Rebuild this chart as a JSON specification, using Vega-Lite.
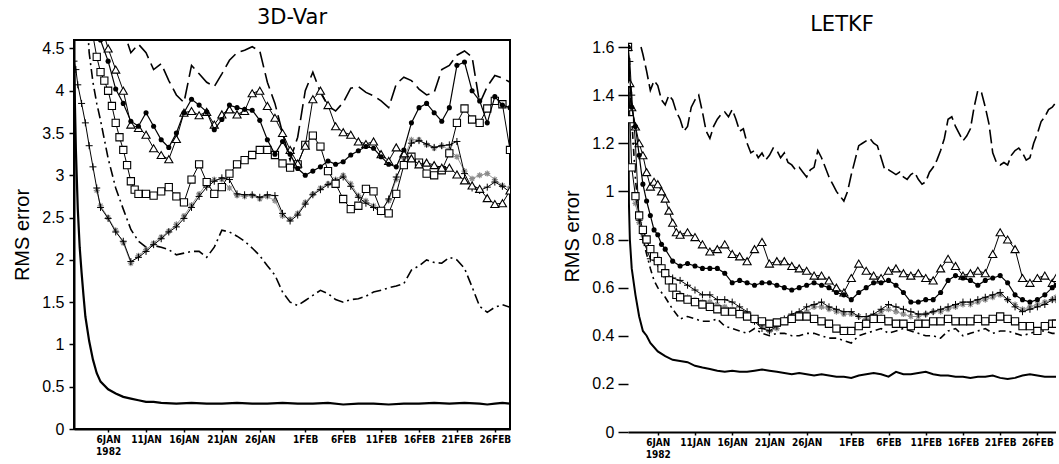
{
"$schema": "https://vega.github.io/schema/vega-lite/v6.json",
"background": "white",
"padding": {"left": 11, "top": 6, "right": 0, "bottom": 0},
"spacing": 50,
"config": {
 "view": {"stroke": "black", "strokeWidth": 2},
 "axis": {"domainColor": "black", "domainWidth": 2, "tickColor": "black", "tickWidth": 1.5, "labelColor": "black", "titleColor": "black", "grid": false, "labelFont": "Liberation Sans", "titleFont": "Liberation Sans", "titleFontWeight": "normal"},
 "title": {"font": "DejaVu Sans", "fontWeight": "normal", "fontSize": 21, "color": "black", "baseline": "alphabetic"}
},
"datasets": {
"a_solid": [{"t":"1982-01-01T12:00","v":4.35},{"t":"1982-01-01T18:00","v":3.3},{"t":"1982-01-02T00:00","v":2.6},{"t":"1982-01-02T06:00","v":2.15},{"t":"1982-01-02T12:00","v":1.85},{"t":"1982-01-02T18:00","v":1.58},{"t":"1982-01-03T00:00","v":1.33},{"t":"1982-01-03T12:00","v":1.04},{"t":"1982-01-04T00:00","v":0.82},{"t":"1982-01-04T12:00","v":0.66},{"t":"1982-01-05T00:00","v":0.56},{"t":"1982-01-06T00:00","v":0.47},{"t":"1982-01-07T00:00","v":0.42},{"t":"1982-01-08T00:00","v":0.38},{"t":"1982-01-09T00:00","v":0.36},{"t":"1982-01-10T00:00","v":0.34},{"t":"1982-01-11T00:00","v":0.32},{"t":"1982-01-12T00:00","v":0.32},{"t":"1982-01-13T00:00","v":0.31},{"t":"1982-01-15T00:00","v":0.3},{"t":"1982-01-17T00:00","v":0.31},{"t":"1982-01-19T00:00","v":0.3},{"t":"1982-01-21T00:00","v":0.3},{"t":"1982-01-23T00:00","v":0.31},{"t":"1982-01-25T00:00","v":0.3},{"t":"1982-01-27T00:00","v":0.3},{"t":"1982-01-29T00:00","v":0.31},{"t":"1982-01-31T00:00","v":0.3},{"t":"1982-02-02T00:00","v":0.3},{"t":"1982-02-04T00:00","v":0.31},{"t":"1982-02-06T00:00","v":0.29},{"t":"1982-02-08T00:00","v":0.3},{"t":"1982-02-10T00:00","v":0.3},{"t":"1982-02-12T00:00","v":0.29},{"t":"1982-02-14T00:00","v":0.3},{"t":"1982-02-16T00:00","v":0.3},{"t":"1982-02-18T00:00","v":0.31},{"t":"1982-02-20T00:00","v":0.3},{"t":"1982-02-22T00:00","v":0.31},{"t":"1982-02-24T00:00","v":0.3},{"t":"1982-02-25T00:00","v":0.29},{"t":"1982-02-26T00:00","v":0.3},{"t":"1982-02-27T00:00","v":0.31},{"t":"1982-02-28T00:00","v":0.3}],
"a_dash": [{"t":"1982-01-06T00:00","v":5.3},{"t":"1982-01-07T00:00","v":5.0},{"t":"1982-01-08T00:00","v":4.72},{"t":"1982-01-09T00:00","v":4.45},{"t":"1982-01-10T00:00","v":4.55},{"t":"1982-01-11T00:00","v":4.45},{"t":"1982-01-12T00:00","v":4.25},{"t":"1982-01-13T00:00","v":4.32},{"t":"1982-01-14T00:00","v":4.12},{"t":"1982-01-15T00:00","v":3.95},{"t":"1982-01-16T00:00","v":3.86},{"t":"1982-01-17T00:00","v":4.3},{"t":"1982-01-18T00:00","v":4.2},{"t":"1982-01-19T00:00","v":4.1},{"t":"1982-01-20T00:00","v":4.05},{"t":"1982-01-21T00:00","v":4.2},{"t":"1982-01-22T00:00","v":4.36},{"t":"1982-01-23T00:00","v":4.45},{"t":"1982-01-24T00:00","v":4.48},{"t":"1982-01-25T00:00","v":4.52},{"t":"1982-01-26T00:00","v":4.47},{"t":"1982-01-27T00:00","v":4.1},{"t":"1982-01-28T00:00","v":3.85},{"t":"1982-01-29T00:00","v":3.5},{"t":"1982-01-30T00:00","v":3.18},{"t":"1982-01-31T00:00","v":3.45},{"t":"1982-02-01T00:00","v":4.0},{"t":"1982-02-02T00:00","v":4.22},{"t":"1982-02-03T00:00","v":3.98},{"t":"1982-02-04T00:00","v":3.82},{"t":"1982-02-05T00:00","v":3.76},{"t":"1982-02-06T00:00","v":3.86},{"t":"1982-02-07T00:00","v":4.03},{"t":"1982-02-08T00:00","v":4.05},{"t":"1982-02-09T00:00","v":3.98},{"t":"1982-02-10T00:00","v":3.94},{"t":"1982-02-11T00:00","v":3.88},{"t":"1982-02-12T00:00","v":3.8},{"t":"1982-02-13T00:00","v":4.08},{"t":"1982-02-14T00:00","v":4.16},{"t":"1982-02-15T00:00","v":4.12},{"t":"1982-02-16T00:00","v":4.02},{"t":"1982-02-17T00:00","v":3.95},{"t":"1982-02-18T00:00","v":3.98},{"t":"1982-02-19T00:00","v":4.25},{"t":"1982-02-20T00:00","v":4.3},{"t":"1982-02-21T00:00","v":4.42},{"t":"1982-02-22T00:00","v":4.47},{"t":"1982-02-23T00:00","v":4.4},{"t":"1982-02-24T00:00","v":3.85},{"t":"1982-02-25T00:00","v":4.05},{"t":"1982-02-26T00:00","v":4.18},{"t":"1982-02-27T00:00","v":4.15},{"t":"1982-02-28T00:00","v":4.1}],
"a_dd": [{"t":"1982-01-03T00:00","v":5.2},{"t":"1982-01-03T12:00","v":4.45},{"t":"1982-01-04T00:00","v":4.1},{"t":"1982-01-04T12:00","v":3.85},{"t":"1982-01-05T00:00","v":3.65},{"t":"1982-01-06T00:00","v":3.2},{"t":"1982-01-07T00:00","v":2.85},{"t":"1982-01-08T00:00","v":2.6},{"t":"1982-01-09T00:00","v":2.36},{"t":"1982-01-10T00:00","v":2.22},{"t":"1982-01-11T00:00","v":2.15},{"t":"1982-01-12T00:00","v":2.17},{"t":"1982-01-13T00:00","v":2.15},{"t":"1982-01-14T00:00","v":2.12},{"t":"1982-01-15T00:00","v":2.06},{"t":"1982-01-16T00:00","v":2.08},{"t":"1982-01-17T00:00","v":2.1},{"t":"1982-01-18T00:00","v":2.1},{"t":"1982-01-19T00:00","v":2.03},{"t":"1982-01-20T00:00","v":2.15},{"t":"1982-01-21T00:00","v":2.35},{"t":"1982-01-22T00:00","v":2.33},{"t":"1982-01-23T00:00","v":2.28},{"t":"1982-01-24T00:00","v":2.22},{"t":"1982-01-25T00:00","v":2.14},{"t":"1982-01-26T00:00","v":2.05},{"t":"1982-01-27T00:00","v":1.93},{"t":"1982-01-28T00:00","v":1.82},{"t":"1982-01-29T00:00","v":1.62},{"t":"1982-01-30T00:00","v":1.5},{"t":"1982-01-31T00:00","v":1.46},{"t":"1982-02-01T00:00","v":1.52},{"t":"1982-02-02T00:00","v":1.58},{"t":"1982-02-03T00:00","v":1.64},{"t":"1982-02-04T00:00","v":1.6},{"t":"1982-02-05T00:00","v":1.53},{"t":"1982-02-06T00:00","v":1.5},{"t":"1982-02-07T00:00","v":1.53},{"t":"1982-02-08T00:00","v":1.54},{"t":"1982-02-09T00:00","v":1.57},{"t":"1982-02-10T00:00","v":1.62},{"t":"1982-02-11T00:00","v":1.64},{"t":"1982-02-12T00:00","v":1.67},{"t":"1982-02-13T00:00","v":1.69},{"t":"1982-02-14T00:00","v":1.72},{"t":"1982-02-15T00:00","v":1.88},{"t":"1982-02-16T00:00","v":1.93},{"t":"1982-02-17T00:00","v":2.0},{"t":"1982-02-18T00:00","v":1.97},{"t":"1982-02-19T00:00","v":1.96},{"t":"1982-02-20T00:00","v":2.03},{"t":"1982-02-21T00:00","v":2.0},{"t":"1982-02-22T00:00","v":1.9},{"t":"1982-02-23T00:00","v":1.68},{"t":"1982-02-24T00:00","v":1.45},{"t":"1982-02-25T00:00","v":1.38},{"t":"1982-02-26T00:00","v":1.44},{"t":"1982-02-27T00:00","v":1.47},{"t":"1982-02-28T00:00","v":1.44}],
"a_plus": [{"t":"1982-01-01T12:00","v":4.35},{"t":"1982-01-01T18:00","v":4.25},{"t":"1982-01-02T00:00","v":4.07},{"t":"1982-01-02T12:00","v":3.85},{"t":"1982-01-03T00:00","v":3.62},{"t":"1982-01-03T12:00","v":3.35},{"t":"1982-01-04T00:00","v":3.1},{"t":"1982-01-04T12:00","v":2.85},{"t":"1982-01-05T00:00","v":2.62},{"t":"1982-01-06T00:00","v":2.49},{"t":"1982-01-07T00:00","v":2.33},{"t":"1982-01-08T00:00","v":2.22},{"t":"1982-01-09T00:00","v":1.98},{"t":"1982-01-10T00:00","v":2.03},{"t":"1982-01-11T00:00","v":2.1},{"t":"1982-01-12T00:00","v":2.18},{"t":"1982-01-13T00:00","v":2.25},{"t":"1982-01-14T00:00","v":2.33},{"t":"1982-01-15T00:00","v":2.39},{"t":"1982-01-16T00:00","v":2.49},{"t":"1982-01-17T00:00","v":2.62},{"t":"1982-01-18T00:00","v":2.75},{"t":"1982-01-19T00:00","v":2.86},{"t":"1982-01-20T00:00","v":2.93},{"t":"1982-01-21T00:00","v":2.97},{"t":"1982-01-22T00:00","v":2.95},{"t":"1982-01-23T00:00","v":2.78},{"t":"1982-01-24T00:00","v":2.77},{"t":"1982-01-25T00:00","v":2.77},{"t":"1982-01-26T00:00","v":2.74},{"t":"1982-01-27T00:00","v":2.77},{"t":"1982-01-28T00:00","v":2.76},{"t":"1982-01-29T00:00","v":2.55},{"t":"1982-01-30T00:00","v":2.46},{"t":"1982-01-31T00:00","v":2.53},{"t":"1982-02-01T00:00","v":2.66},{"t":"1982-02-02T00:00","v":2.77},{"t":"1982-02-03T00:00","v":2.83},{"t":"1982-02-04T00:00","v":2.89},{"t":"1982-02-05T00:00","v":2.93},{"t":"1982-02-06T00:00","v":2.98},{"t":"1982-02-07T00:00","v":2.87},{"t":"1982-02-08T00:00","v":2.74},{"t":"1982-02-09T00:00","v":2.67},{"t":"1982-02-10T00:00","v":2.62},{"t":"1982-02-11T00:00","v":2.57},{"t":"1982-02-12T00:00","v":2.72},{"t":"1982-02-13T00:00","v":2.98},{"t":"1982-02-14T00:00","v":3.16},{"t":"1982-02-15T00:00","v":3.38},{"t":"1982-02-16T00:00","v":3.41},{"t":"1982-02-17T00:00","v":3.37},{"t":"1982-02-18T00:00","v":3.33},{"t":"1982-02-19T00:00","v":3.35},{"t":"1982-02-20T00:00","v":3.36},{"t":"1982-02-21T00:00","v":3.4},{"t":"1982-02-22T00:00","v":3.02},{"t":"1982-02-23T00:00","v":2.85},{"t":"1982-02-24T00:00","v":2.82},{"t":"1982-02-25T00:00","v":2.86},{"t":"1982-02-26T00:00","v":2.92},{"t":"1982-02-27T00:00","v":2.87},{"t":"1982-02-28T00:00","v":2.8}],
"a_gray": [{"t":"1982-01-04T12:00","v":2.82},{"t":"1982-01-05T00:00","v":2.64},{"t":"1982-01-06T00:00","v":2.5},{"t":"1982-01-07T00:00","v":2.35},{"t":"1982-01-08T00:00","v":2.2},{"t":"1982-01-09T00:00","v":1.96},{"t":"1982-01-10T00:00","v":2.05},{"t":"1982-01-11T00:00","v":2.12},{"t":"1982-01-12T00:00","v":2.2},{"t":"1982-01-13T00:00","v":2.27},{"t":"1982-01-14T00:00","v":2.34},{"t":"1982-01-15T00:00","v":2.42},{"t":"1982-01-16T00:00","v":2.52},{"t":"1982-01-17T00:00","v":2.65},{"t":"1982-01-18T00:00","v":2.78},{"t":"1982-01-19T00:00","v":2.9},{"t":"1982-01-20T00:00","v":2.95},{"t":"1982-01-21T00:00","v":2.95},{"t":"1982-01-22T00:00","v":2.85},{"t":"1982-01-23T00:00","v":2.76},{"t":"1982-01-24T00:00","v":2.75},{"t":"1982-01-25T00:00","v":2.76},{"t":"1982-01-26T00:00","v":2.72},{"t":"1982-01-27T00:00","v":2.75},{"t":"1982-01-28T00:00","v":2.7},{"t":"1982-01-29T00:00","v":2.52},{"t":"1982-01-30T00:00","v":2.48},{"t":"1982-01-31T00:00","v":2.55},{"t":"1982-02-01T00:00","v":2.68},{"t":"1982-02-02T00:00","v":2.78},{"t":"1982-02-03T00:00","v":2.85},{"t":"1982-02-04T00:00","v":2.9},{"t":"1982-02-05T00:00","v":2.95},{"t":"1982-02-06T00:00","v":3.0},{"t":"1982-02-07T00:00","v":2.9},{"t":"1982-02-08T00:00","v":2.76},{"t":"1982-02-09T00:00","v":2.7},{"t":"1982-02-10T00:00","v":2.64},{"t":"1982-02-11T00:00","v":2.58},{"t":"1982-02-12T00:00","v":2.7},{"t":"1982-02-13T00:00","v":2.95},{"t":"1982-02-14T00:00","v":3.2},{"t":"1982-02-15T00:00","v":3.42},{"t":"1982-02-16T00:00","v":3.42},{"t":"1982-02-17T00:00","v":3.36},{"t":"1982-02-18T00:00","v":3.32},{"t":"1982-02-19T00:00","v":3.35},{"t":"1982-02-20T00:00","v":3.3},{"t":"1982-02-21T00:00","v":3.22},{"t":"1982-02-22T00:00","v":3.05},{"t":"1982-02-23T00:00","v":2.96},{"t":"1982-02-24T00:00","v":3.0},{"t":"1982-02-25T00:00","v":3.02},{"t":"1982-02-26T00:00","v":2.95},{"t":"1982-02-27T00:00","v":2.88},{"t":"1982-02-28T00:00","v":2.85}],
"a_sq": [{"t":"1982-01-04T00:00","v":4.65},{"t":"1982-01-04T12:00","v":4.4},{"t":"1982-01-05T00:00","v":4.22},{"t":"1982-01-05T12:00","v":4.12},{"t":"1982-01-06T00:00","v":4.0},{"t":"1982-01-06T12:00","v":3.82},{"t":"1982-01-07T00:00","v":3.62},{"t":"1982-01-07T12:00","v":3.45},{"t":"1982-01-08T00:00","v":3.3},{"t":"1982-01-08T12:00","v":3.12},{"t":"1982-01-09T00:00","v":2.93},{"t":"1982-01-09T12:00","v":2.83},{"t":"1982-01-10T00:00","v":2.78},{"t":"1982-01-11T00:00","v":2.78},{"t":"1982-01-12T00:00","v":2.76},{"t":"1982-01-13T00:00","v":2.81},{"t":"1982-01-14T00:00","v":2.86},{"t":"1982-01-15T00:00","v":2.75},{"t":"1982-01-16T00:00","v":2.68},{"t":"1982-01-17T00:00","v":2.95},{"t":"1982-01-18T00:00","v":3.13},{"t":"1982-01-19T00:00","v":2.92},{"t":"1982-01-20T00:00","v":2.78},{"t":"1982-01-21T00:00","v":2.86},{"t":"1982-01-22T00:00","v":3.02},{"t":"1982-01-23T00:00","v":3.13},{"t":"1982-01-24T00:00","v":3.18},{"t":"1982-01-25T00:00","v":3.24},{"t":"1982-01-26T00:00","v":3.3},{"t":"1982-01-27T00:00","v":3.3},{"t":"1982-01-28T00:00","v":3.24},{"t":"1982-01-29T00:00","v":3.14},{"t":"1982-01-30T00:00","v":3.09},{"t":"1982-01-31T00:00","v":3.13},{"t":"1982-02-01T00:00","v":3.36},{"t":"1982-02-02T00:00","v":3.47},{"t":"1982-02-03T00:00","v":3.34},{"t":"1982-02-04T00:00","v":3.05},{"t":"1982-02-05T00:00","v":2.9},{"t":"1982-02-06T00:00","v":2.72},{"t":"1982-02-07T00:00","v":2.6},{"t":"1982-02-08T00:00","v":2.64},{"t":"1982-02-09T00:00","v":2.84},{"t":"1982-02-10T00:00","v":2.81},{"t":"1982-02-11T00:00","v":2.58},{"t":"1982-02-12T00:00","v":2.55},{"t":"1982-02-13T00:00","v":2.78},{"t":"1982-02-14T00:00","v":3.12},{"t":"1982-02-15T00:00","v":3.22},{"t":"1982-02-16T00:00","v":3.15},{"t":"1982-02-17T00:00","v":3.02},{"t":"1982-02-18T00:00","v":3.0},{"t":"1982-02-19T00:00","v":3.06},{"t":"1982-02-20T00:00","v":3.26},{"t":"1982-02-21T00:00","v":3.62},{"t":"1982-02-22T00:00","v":3.79},{"t":"1982-02-23T00:00","v":3.66},{"t":"1982-02-24T00:00","v":3.62},{"t":"1982-02-25T00:00","v":3.79},{"t":"1982-02-26T00:00","v":3.88},{"t":"1982-02-27T00:00","v":3.84},{"t":"1982-02-28T00:00","v":3.3}],
"a_tri": [{"t":"1982-01-04T00:00","v":5.3},{"t":"1982-01-05T00:00","v":4.8},{"t":"1982-01-06T00:00","v":4.5},{"t":"1982-01-07T00:00","v":4.25},{"t":"1982-01-08T00:00","v":4.0},{"t":"1982-01-09T00:00","v":3.6},{"t":"1982-01-10T00:00","v":3.56},{"t":"1982-01-11T00:00","v":3.48},{"t":"1982-01-12T00:00","v":3.32},{"t":"1982-01-13T00:00","v":3.24},{"t":"1982-01-14T00:00","v":3.19},{"t":"1982-01-15T00:00","v":3.43},{"t":"1982-01-16T00:00","v":3.74},{"t":"1982-01-17T00:00","v":3.76},{"t":"1982-01-18T00:00","v":3.71},{"t":"1982-01-19T00:00","v":3.75},{"t":"1982-01-20T00:00","v":3.6},{"t":"1982-01-21T00:00","v":3.72},{"t":"1982-01-22T00:00","v":3.78},{"t":"1982-01-23T00:00","v":3.72},{"t":"1982-01-24T00:00","v":3.76},{"t":"1982-01-25T00:00","v":3.97},{"t":"1982-01-26T00:00","v":4.0},{"t":"1982-01-27T00:00","v":3.82},{"t":"1982-01-28T00:00","v":3.68},{"t":"1982-01-29T00:00","v":3.5},{"t":"1982-01-30T00:00","v":3.3},{"t":"1982-01-31T00:00","v":3.14},{"t":"1982-02-01T00:00","v":3.35},{"t":"1982-02-02T00:00","v":3.9},{"t":"1982-02-03T00:00","v":4.0},{"t":"1982-02-04T00:00","v":3.83},{"t":"1982-02-05T00:00","v":3.58},{"t":"1982-02-06T00:00","v":3.51},{"t":"1982-02-07T00:00","v":3.48},{"t":"1982-02-08T00:00","v":3.4},{"t":"1982-02-09T00:00","v":3.37},{"t":"1982-02-10T00:00","v":3.4},{"t":"1982-02-11T00:00","v":3.25},{"t":"1982-02-12T00:00","v":3.17},{"t":"1982-02-13T00:00","v":3.33},{"t":"1982-02-14T00:00","v":3.26},{"t":"1982-02-15T00:00","v":3.2},{"t":"1982-02-16T00:00","v":3.13},{"t":"1982-02-17T00:00","v":3.15},{"t":"1982-02-18T00:00","v":3.12},{"t":"1982-02-19T00:00","v":3.09},{"t":"1982-02-20T00:00","v":3.09},{"t":"1982-02-21T00:00","v":3.01},{"t":"1982-02-22T00:00","v":2.94},{"t":"1982-02-23T00:00","v":2.88},{"t":"1982-02-24T00:00","v":2.84},{"t":"1982-02-25T00:00","v":2.73},{"t":"1982-02-26T00:00","v":2.66},{"t":"1982-02-27T00:00","v":2.67},{"t":"1982-02-28T00:00","v":2.82}],
"a_circ": [{"t":"1982-01-04T00:00","v":5.0},{"t":"1982-01-05T00:00","v":4.6},{"t":"1982-01-06T00:00","v":4.35},{"t":"1982-01-07T00:00","v":4.02},{"t":"1982-01-08T00:00","v":3.85},{"t":"1982-01-09T00:00","v":3.64},{"t":"1982-01-10T00:00","v":3.58},{"t":"1982-01-11T00:00","v":3.74},{"t":"1982-01-12T00:00","v":3.58},{"t":"1982-01-13T00:00","v":3.42},{"t":"1982-01-14T00:00","v":3.33},{"t":"1982-01-15T00:00","v":3.5},{"t":"1982-01-16T00:00","v":3.74},{"t":"1982-01-17T00:00","v":3.9},{"t":"1982-01-18T00:00","v":3.83},{"t":"1982-01-19T00:00","v":3.75},{"t":"1982-01-20T00:00","v":3.54},{"t":"1982-01-21T00:00","v":3.66},{"t":"1982-01-22T00:00","v":3.83},{"t":"1982-01-23T00:00","v":3.8},{"t":"1982-01-24T00:00","v":3.78},{"t":"1982-01-25T00:00","v":3.77},{"t":"1982-01-26T00:00","v":3.65},{"t":"1982-01-27T00:00","v":3.42},{"t":"1982-01-28T00:00","v":3.25},{"t":"1982-01-29T00:00","v":3.4},{"t":"1982-01-30T00:00","v":3.25},{"t":"1982-01-31T00:00","v":3.08},{"t":"1982-02-01T00:00","v":3.0},{"t":"1982-02-02T00:00","v":3.05},{"t":"1982-02-03T00:00","v":3.1},{"t":"1982-02-04T00:00","v":3.17},{"t":"1982-02-05T00:00","v":3.13},{"t":"1982-02-06T00:00","v":3.16},{"t":"1982-02-07T00:00","v":3.24},{"t":"1982-02-08T00:00","v":3.29},{"t":"1982-02-09T00:00","v":3.34},{"t":"1982-02-10T00:00","v":3.32},{"t":"1982-02-11T00:00","v":3.22},{"t":"1982-02-12T00:00","v":3.13},{"t":"1982-02-13T00:00","v":3.1},{"t":"1982-02-14T00:00","v":3.3},{"t":"1982-02-15T00:00","v":3.62},{"t":"1982-02-16T00:00","v":3.8},{"t":"1982-02-17T00:00","v":3.85},{"t":"1982-02-18T00:00","v":3.74},{"t":"1982-02-19T00:00","v":3.64},{"t":"1982-02-20T00:00","v":3.8},{"t":"1982-02-21T00:00","v":4.3},{"t":"1982-02-22T00:00","v":4.34},{"t":"1982-02-23T00:00","v":4.0},{"t":"1982-02-24T00:00","v":3.88},{"t":"1982-02-25T00:00","v":3.62},{"t":"1982-02-26T00:00","v":3.93},{"t":"1982-02-27T00:00","v":3.83},{"t":"1982-02-28T00:00","v":3.8}],
"r_solid": [{"t":"1982-01-02T00:00","v":1.6},{"t":"1982-01-02T03:00","v":0.95},{"t":"1982-01-02T06:00","v":0.8},{"t":"1982-01-02T12:00","v":0.68},{"t":"1982-01-03T00:00","v":0.57},{"t":"1982-01-03T12:00","v":0.48},{"t":"1982-01-04T00:00","v":0.42},{"t":"1982-01-04T12:00","v":0.4},{"t":"1982-01-05T00:00","v":0.37},{"t":"1982-01-06T00:00","v":0.335},{"t":"1982-01-07T00:00","v":0.315},{"t":"1982-01-08T00:00","v":0.3},{"t":"1982-01-09T00:00","v":0.295},{"t":"1982-01-10T00:00","v":0.29},{"t":"1982-01-11T00:00","v":0.275},{"t":"1982-01-12T00:00","v":0.268},{"t":"1982-01-13T00:00","v":0.262},{"t":"1982-01-14T00:00","v":0.255},{"t":"1982-01-15T00:00","v":0.25},{"t":"1982-01-16T00:00","v":0.255},{"t":"1982-01-17T00:00","v":0.25},{"t":"1982-01-18T00:00","v":0.25},{"t":"1982-01-19T00:00","v":0.255},{"t":"1982-01-20T00:00","v":0.26},{"t":"1982-01-21T00:00","v":0.255},{"t":"1982-01-22T00:00","v":0.25},{"t":"1982-01-23T00:00","v":0.245},{"t":"1982-01-24T00:00","v":0.24},{"t":"1982-01-25T00:00","v":0.245},{"t":"1982-01-26T00:00","v":0.24},{"t":"1982-01-27T00:00","v":0.235},{"t":"1982-01-28T00:00","v":0.24},{"t":"1982-01-29T00:00","v":0.235},{"t":"1982-01-30T00:00","v":0.23},{"t":"1982-01-31T00:00","v":0.23},{"t":"1982-02-01T00:00","v":0.225},{"t":"1982-02-02T00:00","v":0.235},{"t":"1982-02-03T00:00","v":0.24},{"t":"1982-02-04T00:00","v":0.245},{"t":"1982-02-05T00:00","v":0.24},{"t":"1982-02-06T00:00","v":0.23},{"t":"1982-02-07T00:00","v":0.25},{"t":"1982-02-08T00:00","v":0.24},{"t":"1982-02-09T00:00","v":0.24},{"t":"1982-02-10T00:00","v":0.245},{"t":"1982-02-11T00:00","v":0.25},{"t":"1982-02-12T00:00","v":0.24},{"t":"1982-02-13T00:00","v":0.235},{"t":"1982-02-14T00:00","v":0.235},{"t":"1982-02-15T00:00","v":0.23},{"t":"1982-02-16T00:00","v":0.23},{"t":"1982-02-17T00:00","v":0.225},{"t":"1982-02-18T00:00","v":0.23},{"t":"1982-02-19T00:00","v":0.23},{"t":"1982-02-20T00:00","v":0.235},{"t":"1982-02-21T00:00","v":0.225},{"t":"1982-02-22T00:00","v":0.22},{"t":"1982-02-23T00:00","v":0.225},{"t":"1982-02-24T00:00","v":0.235},{"t":"1982-02-25T00:00","v":0.24},{"t":"1982-02-26T00:00","v":0.235},{"t":"1982-02-27T00:00","v":0.23},{"t":"1982-02-28T12:00","v":0.23}],
"r_dash": [{"t":"1982-01-03T18:00","v":1.6},{"t":"1982-01-04T00:00","v":1.57},{"t":"1982-01-04T12:00","v":1.5},{"t":"1982-01-05T00:00","v":1.42},{"t":"1982-01-05T12:00","v":1.46},{"t":"1982-01-06T00:00","v":1.44},{"t":"1982-01-06T12:00","v":1.38},{"t":"1982-01-07T00:00","v":1.36},{"t":"1982-01-07T12:00","v":1.4},{"t":"1982-01-08T00:00","v":1.38},{"t":"1982-01-08T12:00","v":1.33},{"t":"1982-01-09T00:00","v":1.3},{"t":"1982-01-09T12:00","v":1.25},{"t":"1982-01-10T00:00","v":1.27},{"t":"1982-01-10T12:00","v":1.35},{"t":"1982-01-11T00:00","v":1.38},{"t":"1982-01-11T12:00","v":1.4},{"t":"1982-01-12T00:00","v":1.33},{"t":"1982-01-12T12:00","v":1.25},{"t":"1982-01-13T00:00","v":1.22},{"t":"1982-01-13T12:00","v":1.27},{"t":"1982-01-14T00:00","v":1.3},{"t":"1982-01-14T12:00","v":1.32},{"t":"1982-01-15T00:00","v":1.33},{"t":"1982-01-15T12:00","v":1.31},{"t":"1982-01-16T00:00","v":1.34},{"t":"1982-01-16T12:00","v":1.3},{"t":"1982-01-17T00:00","v":1.25},{"t":"1982-01-17T12:00","v":1.26},{"t":"1982-01-18T00:00","v":1.2},{"t":"1982-01-18T12:00","v":1.16},{"t":"1982-01-19T00:00","v":1.17},{"t":"1982-01-19T12:00","v":1.14},{"t":"1982-01-20T00:00","v":1.16},{"t":"1982-01-20T12:00","v":1.13},{"t":"1982-01-21T00:00","v":1.15},{"t":"1982-01-21T12:00","v":1.18},{"t":"1982-01-22T00:00","v":1.17},{"t":"1982-01-22T12:00","v":1.14},{"t":"1982-01-23T00:00","v":1.16},{"t":"1982-01-23T12:00","v":1.12},{"t":"1982-01-24T00:00","v":1.11},{"t":"1982-01-24T12:00","v":1.09},{"t":"1982-01-25T00:00","v":1.1},{"t":"1982-01-25T12:00","v":1.08},{"t":"1982-01-26T00:00","v":1.06},{"t":"1982-01-26T12:00","v":1.09},{"t":"1982-01-27T00:00","v":1.1},{"t":"1982-01-27T12:00","v":1.17},{"t":"1982-01-28T00:00","v":1.14},{"t":"1982-01-28T12:00","v":1.1},{"t":"1982-01-29T00:00","v":1.06},{"t":"1982-01-29T12:00","v":1.03},{"t":"1982-01-30T00:00","v":1.0},{"t":"1982-01-30T12:00","v":0.98},{"t":"1982-01-31T00:00","v":0.96},{"t":"1982-01-31T12:00","v":1.0},{"t":"1982-02-01T00:00","v":1.07},{"t":"1982-02-01T12:00","v":1.13},{"t":"1982-02-02T00:00","v":1.19},{"t":"1982-02-02T12:00","v":1.2},{"t":"1982-02-03T00:00","v":1.21},{"t":"1982-02-03T12:00","v":1.22},{"t":"1982-02-04T00:00","v":1.2},{"t":"1982-02-04T12:00","v":1.19},{"t":"1982-02-05T00:00","v":1.14},{"t":"1982-02-05T12:00","v":1.09},{"t":"1982-02-06T00:00","v":1.09},{"t":"1982-02-06T12:00","v":1.08},{"t":"1982-02-07T00:00","v":1.07},{"t":"1982-02-07T12:00","v":1.08},{"t":"1982-02-08T00:00","v":1.06},{"t":"1982-02-08T12:00","v":1.05},{"t":"1982-02-09T00:00","v":1.07},{"t":"1982-02-09T12:00","v":1.08},{"t":"1982-02-10T00:00","v":1.05},{"t":"1982-02-10T12:00","v":1.03},{"t":"1982-02-11T00:00","v":1.04},{"t":"1982-02-11T12:00","v":1.08},{"t":"1982-02-12T00:00","v":1.1},{"t":"1982-02-12T12:00","v":1.13},{"t":"1982-02-13T00:00","v":1.17},{"t":"1982-02-13T12:00","v":1.22},{"t":"1982-02-14T00:00","v":1.3},{"t":"1982-02-14T12:00","v":1.31},{"t":"1982-02-15T00:00","v":1.27},{"t":"1982-02-15T12:00","v":1.24},{"t":"1982-02-16T00:00","v":1.21},{"t":"1982-02-16T12:00","v":1.23},{"t":"1982-02-17T00:00","v":1.26},{"t":"1982-02-17T12:00","v":1.35},{"t":"1982-02-18T00:00","v":1.42},{"t":"1982-02-18T12:00","v":1.41},{"t":"1982-02-19T00:00","v":1.35},{"t":"1982-02-19T12:00","v":1.28},{"t":"1982-02-20T00:00","v":1.16},{"t":"1982-02-20T12:00","v":1.12},{"t":"1982-02-21T00:00","v":1.11},{"t":"1982-02-21T12:00","v":1.12},{"t":"1982-02-22T00:00","v":1.11},{"t":"1982-02-22T12:00","v":1.15},{"t":"1982-02-23T00:00","v":1.17},{"t":"1982-02-23T12:00","v":1.18},{"t":"1982-02-24T00:00","v":1.16},{"t":"1982-02-24T12:00","v":1.13},{"t":"1982-02-25T00:00","v":1.14},{"t":"1982-02-25T12:00","v":1.2},{"t":"1982-02-26T00:00","v":1.24},{"t":"1982-02-26T12:00","v":1.29},{"t":"1982-02-27T00:00","v":1.31},{"t":"1982-02-27T12:00","v":1.34},{"t":"1982-02-28T00:00","v":1.35},{"t":"1982-02-28T12:00","v":1.37}],
"r_dd": [{"t":"1982-01-02T00:00","v":1.6},{"t":"1982-01-02T12:00","v":1.3},{"t":"1982-01-03T00:00","v":1.05},{"t":"1982-01-03T12:00","v":0.9},{"t":"1982-01-04T00:00","v":0.8},{"t":"1982-01-04T12:00","v":0.74},{"t":"1982-01-05T00:00","v":0.68},{"t":"1982-01-05T12:00","v":0.63},{"t":"1982-01-06T00:00","v":0.6},{"t":"1982-01-07T00:00","v":0.56},{"t":"1982-01-08T00:00","v":0.51},{"t":"1982-01-09T00:00","v":0.47},{"t":"1982-01-10T00:00","v":0.48},{"t":"1982-01-11T00:00","v":0.47},{"t":"1982-01-12T00:00","v":0.46},{"t":"1982-01-13T00:00","v":0.46},{"t":"1982-01-14T00:00","v":0.47},{"t":"1982-01-15T00:00","v":0.44},{"t":"1982-01-16T00:00","v":0.43},{"t":"1982-01-17T00:00","v":0.42},{"t":"1982-01-18T00:00","v":0.41},{"t":"1982-01-19T00:00","v":0.43},{"t":"1982-01-20T00:00","v":0.41},{"t":"1982-01-21T00:00","v":0.4},{"t":"1982-01-22T00:00","v":0.41},{"t":"1982-01-23T00:00","v":0.41},{"t":"1982-01-24T00:00","v":0.4},{"t":"1982-01-25T00:00","v":0.4},{"t":"1982-01-26T00:00","v":0.41},{"t":"1982-01-27T00:00","v":0.41},{"t":"1982-01-28T00:00","v":0.4},{"t":"1982-01-29T00:00","v":0.39},{"t":"1982-01-30T00:00","v":0.39},{"t":"1982-01-31T00:00","v":0.38},{"t":"1982-02-01T00:00","v":0.37},{"t":"1982-02-02T00:00","v":0.4},{"t":"1982-02-03T00:00","v":0.41},{"t":"1982-02-04T00:00","v":0.42},{"t":"1982-02-05T00:00","v":0.43},{"t":"1982-02-06T00:00","v":0.41},{"t":"1982-02-07T00:00","v":0.42},{"t":"1982-02-08T00:00","v":0.43},{"t":"1982-02-09T00:00","v":0.42},{"t":"1982-02-10T00:00","v":0.41},{"t":"1982-02-11T00:00","v":0.4},{"t":"1982-02-12T00:00","v":0.4},{"t":"1982-02-13T00:00","v":0.39},{"t":"1982-02-14T00:00","v":0.42},{"t":"1982-02-15T00:00","v":0.43},{"t":"1982-02-16T00:00","v":0.4},{"t":"1982-02-17T00:00","v":0.41},{"t":"1982-02-18T00:00","v":0.42},{"t":"1982-02-19T00:00","v":0.43},{"t":"1982-02-20T00:00","v":0.41},{"t":"1982-02-21T00:00","v":0.42},{"t":"1982-02-22T00:00","v":0.42},{"t":"1982-02-23T00:00","v":0.41},{"t":"1982-02-24T00:00","v":0.4},{"t":"1982-02-25T00:00","v":0.41},{"t":"1982-02-26T00:00","v":0.42},{"t":"1982-02-27T00:00","v":0.42},{"t":"1982-02-28T00:00","v":0.41},{"t":"1982-02-28T12:00","v":0.41}],
"r_plus": [{"t":"1982-01-02T00:00","v":1.6},{"t":"1982-01-02T06:00","v":1.54},{"t":"1982-01-02T12:00","v":1.4},{"t":"1982-01-03T00:00","v":1.2},{"t":"1982-01-03T12:00","v":0.88},{"t":"1982-01-04T00:00","v":0.8},{"t":"1982-01-05T00:00","v":0.72},{"t":"1982-01-06T00:00","v":0.7},{"t":"1982-01-07T00:00","v":0.66},{"t":"1982-01-08T00:00","v":0.64},{"t":"1982-01-09T00:00","v":0.63},{"t":"1982-01-10T00:00","v":0.61},{"t":"1982-01-11T00:00","v":0.59},{"t":"1982-01-12T00:00","v":0.57},{"t":"1982-01-13T00:00","v":0.57},{"t":"1982-01-14T00:00","v":0.55},{"t":"1982-01-15T00:00","v":0.55},{"t":"1982-01-16T00:00","v":0.54},{"t":"1982-01-17T00:00","v":0.52},{"t":"1982-01-18T00:00","v":0.5},{"t":"1982-01-19T00:00","v":0.46},{"t":"1982-01-20T00:00","v":0.43},{"t":"1982-01-21T00:00","v":0.42},{"t":"1982-01-22T00:00","v":0.44},{"t":"1982-01-23T00:00","v":0.47},{"t":"1982-01-24T00:00","v":0.49},{"t":"1982-01-25T00:00","v":0.5},{"t":"1982-01-26T00:00","v":0.52},{"t":"1982-01-27T00:00","v":0.53},{"t":"1982-01-28T00:00","v":0.54},{"t":"1982-01-29T00:00","v":0.52},{"t":"1982-01-30T00:00","v":0.51},{"t":"1982-01-31T00:00","v":0.5},{"t":"1982-02-01T00:00","v":0.5},{"t":"1982-02-02T00:00","v":0.48},{"t":"1982-02-03T00:00","v":0.48},{"t":"1982-02-04T00:00","v":0.49},{"t":"1982-02-05T00:00","v":0.51},{"t":"1982-02-06T00:00","v":0.53},{"t":"1982-02-07T00:00","v":0.52},{"t":"1982-02-08T00:00","v":0.51},{"t":"1982-02-09T00:00","v":0.5},{"t":"1982-02-10T00:00","v":0.49},{"t":"1982-02-11T00:00","v":0.49},{"t":"1982-02-12T00:00","v":0.5},{"t":"1982-02-13T00:00","v":0.51},{"t":"1982-02-14T00:00","v":0.52},{"t":"1982-02-15T00:00","v":0.53},{"t":"1982-02-16T00:00","v":0.54},{"t":"1982-02-17T00:00","v":0.54},{"t":"1982-02-18T00:00","v":0.55},{"t":"1982-02-19T00:00","v":0.56},{"t":"1982-02-20T00:00","v":0.57},{"t":"1982-02-21T00:00","v":0.58},{"t":"1982-02-22T00:00","v":0.55},{"t":"1982-02-23T00:00","v":0.52},{"t":"1982-02-24T00:00","v":0.5},{"t":"1982-02-25T00:00","v":0.51},{"t":"1982-02-26T00:00","v":0.52},{"t":"1982-02-27T00:00","v":0.53},{"t":"1982-02-28T00:00","v":0.55},{"t":"1982-02-28T12:00","v":0.55}],
"r_gray": [{"t":"1982-01-03T00:00","v":0.95},{"t":"1982-01-03T12:00","v":0.87},{"t":"1982-01-04T00:00","v":0.82},{"t":"1982-01-05T00:00","v":0.76},{"t":"1982-01-06T00:00","v":0.72},{"t":"1982-01-07T00:00","v":0.65},{"t":"1982-01-08T00:00","v":0.6},{"t":"1982-01-09T00:00","v":0.57},{"t":"1982-01-10T00:00","v":0.56},{"t":"1982-01-11T00:00","v":0.55},{"t":"1982-01-12T00:00","v":0.54},{"t":"1982-01-13T00:00","v":0.54},{"t":"1982-01-14T00:00","v":0.53},{"t":"1982-01-15T00:00","v":0.52},{"t":"1982-01-16T00:00","v":0.51},{"t":"1982-01-17T00:00","v":0.5},{"t":"1982-01-18T00:00","v":0.48},{"t":"1982-01-19T00:00","v":0.46},{"t":"1982-01-20T00:00","v":0.44},{"t":"1982-01-21T00:00","v":0.42},{"t":"1982-01-22T00:00","v":0.43},{"t":"1982-01-23T00:00","v":0.46},{"t":"1982-01-24T00:00","v":0.48},{"t":"1982-01-25T00:00","v":0.49},{"t":"1982-01-26T00:00","v":0.5},{"t":"1982-01-27T00:00","v":0.52},{"t":"1982-01-28T00:00","v":0.52},{"t":"1982-01-29T00:00","v":0.51},{"t":"1982-01-30T00:00","v":0.5},{"t":"1982-01-31T00:00","v":0.49},{"t":"1982-02-01T00:00","v":0.49},{"t":"1982-02-02T00:00","v":0.48},{"t":"1982-02-03T00:00","v":0.47},{"t":"1982-02-04T00:00","v":0.48},{"t":"1982-02-05T00:00","v":0.5},{"t":"1982-02-06T00:00","v":0.51},{"t":"1982-02-07T00:00","v":0.5},{"t":"1982-02-08T00:00","v":0.49},{"t":"1982-02-09T00:00","v":0.48},{"t":"1982-02-10T00:00","v":0.48},{"t":"1982-02-11T00:00","v":0.49},{"t":"1982-02-12T00:00","v":0.5},{"t":"1982-02-13T00:00","v":0.5},{"t":"1982-02-14T00:00","v":0.51},{"t":"1982-02-15T00:00","v":0.52},{"t":"1982-02-16T00:00","v":0.53},{"t":"1982-02-17T00:00","v":0.53},{"t":"1982-02-18T00:00","v":0.54},{"t":"1982-02-19T00:00","v":0.55},{"t":"1982-02-20T00:00","v":0.56},{"t":"1982-02-21T00:00","v":0.57},{"t":"1982-02-22T00:00","v":0.55},{"t":"1982-02-23T00:00","v":0.53},{"t":"1982-02-24T00:00","v":0.51},{"t":"1982-02-25T00:00","v":0.52},{"t":"1982-02-26T00:00","v":0.53},{"t":"1982-02-27T00:00","v":0.54},{"t":"1982-02-28T00:00","v":0.55},{"t":"1982-02-28T12:00","v":0.56}],
"r_sq": [{"t":"1982-01-02T00:00","v":1.6},{"t":"1982-01-02T06:00","v":1.3},{"t":"1982-01-02T12:00","v":1.1},{"t":"1982-01-03T00:00","v":0.98},{"t":"1982-01-03T12:00","v":0.9},{"t":"1982-01-04T00:00","v":0.84},{"t":"1982-01-04T12:00","v":0.8},{"t":"1982-01-05T00:00","v":0.76},{"t":"1982-01-05T12:00","v":0.73},{"t":"1982-01-06T00:00","v":0.71},{"t":"1982-01-06T12:00","v":0.68},{"t":"1982-01-07T00:00","v":0.66},{"t":"1982-01-07T12:00","v":0.63},{"t":"1982-01-08T00:00","v":0.6},{"t":"1982-01-08T12:00","v":0.57},{"t":"1982-01-09T00:00","v":0.56},{"t":"1982-01-10T00:00","v":0.55},{"t":"1982-01-11T00:00","v":0.54},{"t":"1982-01-12T00:00","v":0.53},{"t":"1982-01-13T00:00","v":0.52},{"t":"1982-01-14T00:00","v":0.51},{"t":"1982-01-15T00:00","v":0.5},{"t":"1982-01-16T00:00","v":0.5},{"t":"1982-01-17T00:00","v":0.49},{"t":"1982-01-18T00:00","v":0.48},{"t":"1982-01-19T00:00","v":0.47},{"t":"1982-01-20T00:00","v":0.46},{"t":"1982-01-21T00:00","v":0.45},{"t":"1982-01-22T00:00","v":0.455},{"t":"1982-01-23T00:00","v":0.46},{"t":"1982-01-24T00:00","v":0.47},{"t":"1982-01-25T00:00","v":0.48},{"t":"1982-01-26T00:00","v":0.48},{"t":"1982-01-27T00:00","v":0.47},{"t":"1982-01-28T00:00","v":0.46},{"t":"1982-01-29T00:00","v":0.45},{"t":"1982-01-30T00:00","v":0.43},{"t":"1982-01-31T00:00","v":0.42},{"t":"1982-02-01T00:00","v":0.42},{"t":"1982-02-02T00:00","v":0.44},{"t":"1982-02-03T00:00","v":0.45},{"t":"1982-02-04T00:00","v":0.47},{"t":"1982-02-05T00:00","v":0.47},{"t":"1982-02-06T00:00","v":0.46},{"t":"1982-02-07T00:00","v":0.45},{"t":"1982-02-08T00:00","v":0.45},{"t":"1982-02-09T00:00","v":0.44},{"t":"1982-02-10T00:00","v":0.45},{"t":"1982-02-11T00:00","v":0.45},{"t":"1982-02-12T00:00","v":0.46},{"t":"1982-02-13T00:00","v":0.46},{"t":"1982-02-14T00:00","v":0.47},{"t":"1982-02-15T00:00","v":0.46},{"t":"1982-02-16T00:00","v":0.46},{"t":"1982-02-17T00:00","v":0.46},{"t":"1982-02-18T00:00","v":0.47},{"t":"1982-02-19T00:00","v":0.46},{"t":"1982-02-20T00:00","v":0.47},{"t":"1982-02-21T00:00","v":0.48},{"t":"1982-02-22T00:00","v":0.47},{"t":"1982-02-23T00:00","v":0.46},{"t":"1982-02-24T00:00","v":0.44},{"t":"1982-02-25T00:00","v":0.44},{"t":"1982-02-26T00:00","v":0.42},{"t":"1982-02-27T00:00","v":0.44},{"t":"1982-02-28T00:00","v":0.45},{"t":"1982-02-28T12:00","v":0.45}],
"r_tri": [{"t":"1982-01-02T00:00","v":1.6},{"t":"1982-01-02T06:00","v":1.45},{"t":"1982-01-02T12:00","v":1.35},{"t":"1982-01-03T00:00","v":1.27},{"t":"1982-01-03T12:00","v":1.2},{"t":"1982-01-04T00:00","v":1.15},{"t":"1982-01-04T12:00","v":1.08},{"t":"1982-01-05T00:00","v":1.02},{"t":"1982-01-05T12:00","v":1.04},{"t":"1982-01-06T00:00","v":1.03},{"t":"1982-01-06T12:00","v":1.0},{"t":"1982-01-07T00:00","v":0.97},{"t":"1982-01-07T12:00","v":0.92},{"t":"1982-01-08T00:00","v":0.87},{"t":"1982-01-08T12:00","v":0.83},{"t":"1982-01-09T00:00","v":0.82},{"t":"1982-01-10T00:00","v":0.83},{"t":"1982-01-11T00:00","v":0.81},{"t":"1982-01-12T00:00","v":0.78},{"t":"1982-01-13T00:00","v":0.75},{"t":"1982-01-14T00:00","v":0.76},{"t":"1982-01-15T00:00","v":0.78},{"t":"1982-01-16T00:00","v":0.74},{"t":"1982-01-17T00:00","v":0.73},{"t":"1982-01-18T00:00","v":0.71},{"t":"1982-01-19T00:00","v":0.76},{"t":"1982-01-20T00:00","v":0.79},{"t":"1982-01-21T00:00","v":0.7},{"t":"1982-01-22T00:00","v":0.71},{"t":"1982-01-23T00:00","v":0.71},{"t":"1982-01-24T00:00","v":0.69},{"t":"1982-01-25T00:00","v":0.68},{"t":"1982-01-26T00:00","v":0.67},{"t":"1982-01-27T00:00","v":0.65},{"t":"1982-01-28T00:00","v":0.65},{"t":"1982-01-29T00:00","v":0.63},{"t":"1982-01-30T00:00","v":0.6},{"t":"1982-01-31T00:00","v":0.58},{"t":"1982-02-01T00:00","v":0.64},{"t":"1982-02-02T00:00","v":0.7},{"t":"1982-02-03T00:00","v":0.67},{"t":"1982-02-04T00:00","v":0.65},{"t":"1982-02-05T00:00","v":0.64},{"t":"1982-02-06T00:00","v":0.67},{"t":"1982-02-07T00:00","v":0.68},{"t":"1982-02-08T00:00","v":0.66},{"t":"1982-02-09T00:00","v":0.65},{"t":"1982-02-10T00:00","v":0.66},{"t":"1982-02-11T00:00","v":0.64},{"t":"1982-02-12T00:00","v":0.63},{"t":"1982-02-13T00:00","v":0.68},{"t":"1982-02-14T00:00","v":0.72},{"t":"1982-02-15T00:00","v":0.69},{"t":"1982-02-16T00:00","v":0.65},{"t":"1982-02-17T00:00","v":0.66},{"t":"1982-02-18T00:00","v":0.67},{"t":"1982-02-19T00:00","v":0.66},{"t":"1982-02-20T00:00","v":0.74},{"t":"1982-02-21T00:00","v":0.83},{"t":"1982-02-22T00:00","v":0.8},{"t":"1982-02-23T00:00","v":0.76},{"t":"1982-02-24T00:00","v":0.64},{"t":"1982-02-25T00:00","v":0.62},{"t":"1982-02-26T00:00","v":0.64},{"t":"1982-02-27T00:00","v":0.65},{"t":"1982-02-28T00:00","v":0.62},{"t":"1982-02-28T12:00","v":0.64}],
"r_circ": [{"t":"1982-01-02T00:00","v":1.6},{"t":"1982-01-02T12:00","v":1.35},{"t":"1982-01-03T00:00","v":1.27},{"t":"1982-01-03T12:00","v":1.15},{"t":"1982-01-04T00:00","v":1.03},{"t":"1982-01-04T12:00","v":0.96},{"t":"1982-01-05T00:00","v":0.9},{"t":"1982-01-05T12:00","v":0.84},{"t":"1982-01-06T00:00","v":0.82},{"t":"1982-01-06T12:00","v":0.78},{"t":"1982-01-07T00:00","v":0.76},{"t":"1982-01-08T00:00","v":0.71},{"t":"1982-01-09T00:00","v":0.69},{"t":"1982-01-10T00:00","v":0.7},{"t":"1982-01-11T00:00","v":0.69},{"t":"1982-01-12T00:00","v":0.68},{"t":"1982-01-13T00:00","v":0.68},{"t":"1982-01-14T00:00","v":0.68},{"t":"1982-01-15T00:00","v":0.66},{"t":"1982-01-16T00:00","v":0.62},{"t":"1982-01-17T00:00","v":0.63},{"t":"1982-01-18T00:00","v":0.62},{"t":"1982-01-19T00:00","v":0.61},{"t":"1982-01-20T00:00","v":0.62},{"t":"1982-01-21T00:00","v":0.62},{"t":"1982-01-22T00:00","v":0.61},{"t":"1982-01-23T00:00","v":0.6},{"t":"1982-01-24T00:00","v":0.59},{"t":"1982-01-25T00:00","v":0.6},{"t":"1982-01-26T00:00","v":0.61},{"t":"1982-01-27T00:00","v":0.62},{"t":"1982-01-28T00:00","v":0.61},{"t":"1982-01-29T00:00","v":0.6},{"t":"1982-01-30T00:00","v":0.58},{"t":"1982-01-31T00:00","v":0.57},{"t":"1982-02-01T00:00","v":0.55},{"t":"1982-02-02T00:00","v":0.58},{"t":"1982-02-03T00:00","v":0.6},{"t":"1982-02-04T00:00","v":0.62},{"t":"1982-02-05T00:00","v":0.62},{"t":"1982-02-06T00:00","v":0.63},{"t":"1982-02-07T00:00","v":0.61},{"t":"1982-02-08T00:00","v":0.58},{"t":"1982-02-09T00:00","v":0.54},{"t":"1982-02-10T00:00","v":0.54},{"t":"1982-02-11T00:00","v":0.55},{"t":"1982-02-12T00:00","v":0.55},{"t":"1982-02-13T00:00","v":0.58},{"t":"1982-02-14T00:00","v":0.63},{"t":"1982-02-15T00:00","v":0.65},{"t":"1982-02-16T00:00","v":0.64},{"t":"1982-02-17T00:00","v":0.63},{"t":"1982-02-18T00:00","v":0.61},{"t":"1982-02-19T00:00","v":0.63},{"t":"1982-02-20T00:00","v":0.64},{"t":"1982-02-21T00:00","v":0.65},{"t":"1982-02-22T00:00","v":0.62},{"t":"1982-02-23T00:00","v":0.57},{"t":"1982-02-24T00:00","v":0.55},{"t":"1982-02-25T00:00","v":0.54},{"t":"1982-02-26T00:00","v":0.55},{"t":"1982-02-27T00:00","v":0.57},{"t":"1982-02-28T00:00","v":0.6},{"t":"1982-02-28T12:00","v":0.61}]
},
"hconcat": [
{
 "title": {"text": "3D-Var", "offset": 12},
 "width": 436, "height": 389,
 "encoding": {
  "x": {"field": "t", "type": "temporal",
   "scale": {"domain": [{"year":1982,"month":1,"date":1,"hours":12},{"year":1982,"month":2,"date":28}]},
   "axis": {"title": null, "values": [{"year":1982,"month":1,"date":6},{"year":1982,"month":1,"date":11},{"year":1982,"month":1,"date":16},{"year":1982,"month":1,"date":21},{"year":1982,"month":1,"date":26},{"year":1982,"month":2,"date":1},{"year":1982,"month":2,"date":6},{"year":1982,"month":2,"date":11},{"year":1982,"month":2,"date":16},{"year":1982,"month":2,"date":21},{"year":1982,"month":2,"date":26}],
    "labelExpr": "month(datum.value)==0 && date(datum.value)==6 ? ['6JAN','1982'] : timeFormat(datum.value,'%-d') + upper(timeFormat(datum.value,'%b'))",
    "tickSize": 3, "labelPadding": 2, "labelFont": "Liberation Sans Narrow, DejaVu Sans Condensed, Liberation Sans", "labelFontSize": 10, "labelFontWeight": "bold", "labelOverlap": false, "labelFlush": false, "labelLineHeight": 12}},
  "y": {"field": "v", "type": "quantitative",
   "scale": {"domain": [0, 4.6], "nice": false, "zero": false},
   "axis": {"title": "RMS error", "values": [0,0.5,1,1.5,2,2.5,3,3.5,4,4.5], "format": "~g", "tickSize": 5, "labelPadding": 5, "labelFontSize": 16, "titleFontSize": 20, "titlePadding": 9}}
 },
 "layer": [
  {"data": {"name": "a_dash"}, "mark": {"type": "line", "clip": true, "color": "black", "strokeWidth": 1.6, "strokeDash": [16, 6]}},
  {"data": {"name": "a_dd"}, "mark": {"type": "line", "clip": true, "color": "black", "strokeWidth": 1.6, "strokeDash": [10, 4, 2, 4]}},
  {"data": {"name": "a_solid"}, "mark": {"type": "line", "clip": true, "color": "black", "strokeWidth": 2.2}},
  {"data": {"name": "a_gray"}, "mark": {"type": "line", "clip": true, "color": "#999999", "strokeWidth": 1, "point": {"shape": "M-1,0H1M0,-1V1M-0.7,-0.7L0.7,0.7M-0.7,0.7L0.7,-0.7", "size": 36, "filled": false, "color": "#8c8c8c", "strokeWidth": 1.2}}},
  {"data": {"name": "a_plus"}, "mark": {"type": "line", "clip": true, "color": "black", "strokeWidth": 1, "point": {"shape": "M-1,0H1M0,-1V1", "size": 49, "filled": false, "color": "black", "strokeWidth": 1}}},
  {"data": {"name": "a_sq"}, "mark": {"type": "line", "clip": true, "color": "black", "strokeWidth": 1, "point": {"shape": "square", "size": 52, "filled": true, "fill": "white", "stroke": "black", "strokeWidth": 1.1}}},
  {"data": {"name": "a_tri"}, "mark": {"type": "line", "clip": true, "color": "black", "strokeWidth": 1, "point": {"shape": "triangle-up", "size": 66, "filled": true, "fill": "white", "stroke": "black", "strokeWidth": 1.1}}},
  {"data": {"name": "a_circ"}, "mark": {"type": "line", "clip": true, "color": "black", "strokeWidth": 1.2, "point": {"shape": "circle", "size": 26, "filled": true, "color": "black"}}}
 ]
},
{
 "title": {"text": "LETKF", "offset": 4},
 "width": 428, "height": 392,
 "view": {"stroke": null},
 "encoding": {
  "x": {"field": "t", "type": "temporal",
   "scale": {"domain": [{"year":1982,"month":1,"date":2},{"year":1982,"month":2,"date":28,"hours":12}]},
   "axis": {"title": null, "values": [{"year":1982,"month":1,"date":6},{"year":1982,"month":1,"date":11},{"year":1982,"month":1,"date":16},{"year":1982,"month":1,"date":21},{"year":1982,"month":1,"date":26},{"year":1982,"month":2,"date":1},{"year":1982,"month":2,"date":6},{"year":1982,"month":2,"date":11},{"year":1982,"month":2,"date":16},{"year":1982,"month":2,"date":21},{"year":1982,"month":2,"date":26}],
    "labelExpr": "month(datum.value)==0 && date(datum.value)==6 ? ['6JAN','1982'] : timeFormat(datum.value,'%-d') + upper(timeFormat(datum.value,'%b'))",
    "tickSize": 3, "labelPadding": 2, "labelFont": "Liberation Sans Narrow, DejaVu Sans Condensed, Liberation Sans", "labelFontSize": 10, "labelFontWeight": "bold", "labelOverlap": false, "labelFlush": false, "labelLineHeight": 12}},
  "y": {"field": "v", "type": "quantitative",
   "scale": {"domain": [0, 1.6292], "nice": false, "zero": false},
   "axis": {"title": "RMS error", "domain": false, "values": [0,0.2,0.4,0.6,0.8,1,1.2,1.4,1.6], "format": "~g", "tickSize": 10, "labelPadding": 4, "labelFontSize": 16, "titleFontSize": 20, "titlePadding": 9}}
 },
 "layer": [
  {"data": {"name": "r_dash"}, "mark": {"type": "line", "clip": true, "color": "black", "strokeWidth": 1.6, "strokeDash": [14, 5]}},
  {"data": {"name": "r_dd"}, "mark": {"type": "line", "clip": true, "color": "black", "strokeWidth": 1.6, "strokeDash": [7, 4, 2, 4]}},
  {"data": {"name": "r_solid"}, "mark": {"type": "line", "clip": true, "color": "black", "strokeWidth": 2}},
  {"data": {"name": "r_gray"}, "mark": {"type": "line", "clip": true, "color": "#999999", "strokeWidth": 1, "point": {"shape": "M-1,0H1M0,-1V1M-0.7,-0.7L0.7,0.7M-0.7,0.7L0.7,-0.7", "size": 36, "filled": false, "color": "#8c8c8c", "strokeWidth": 1.2}}},
  {"data": {"name": "r_plus"}, "mark": {"type": "line", "clip": true, "color": "black", "strokeWidth": 1, "point": {"shape": "M-1,0H1M0,-1V1", "size": 49, "filled": false, "color": "black", "strokeWidth": 1}}},
  {"data": {"name": "r_sq"}, "mark": {"type": "line", "clip": true, "color": "black", "strokeWidth": 1, "point": {"shape": "square", "size": 52, "filled": true, "fill": "white", "stroke": "black", "strokeWidth": 1.1}}},
  {"data": {"name": "r_tri"}, "mark": {"type": "line", "clip": true, "color": "black", "strokeWidth": 1, "point": {"shape": "triangle-up", "size": 66, "filled": true, "fill": "white", "stroke": "black", "strokeWidth": 1.1}}},
  {"data": {"name": "r_circ"}, "mark": {"type": "line", "clip": true, "color": "black", "strokeWidth": 1.2, "point": {"shape": "circle", "size": 26, "filled": true, "color": "black"}}},
  {"data": {"values": [{}]}, "mark": {"type": "rule", "color": "black", "strokeWidth": 2.5},
   "encoding": {"x": {"datum": {"year":1982,"month":1,"date":2}}, "x2": {"datum": {"year":1982,"month":2,"date":28,"hours":12}}, "y": {"datum": 1.6}}},
  {"data": {"values": [{}]}, "mark": {"type": "rule", "color": "black", "strokeWidth": 2.5},
   "encoding": {"x": {"datum": {"year":1982,"month":1,"date":2}}, "y": {"datum": 0}, "y2": {"datum": 1.6}}}
 ]
}
]
}
